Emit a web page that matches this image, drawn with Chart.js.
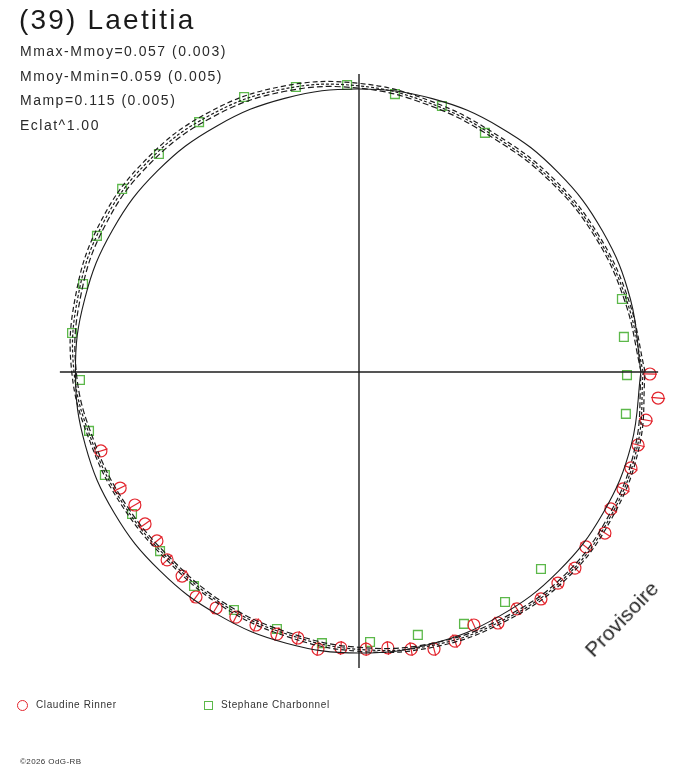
<!DOCTYPE html>
<html>
<head>
<meta charset="utf-8">
<script src="https://cdn.jsdelivr.net/npm/chart.js@4.4.1/dist/chart.umd.min.js"></script>
<style>
  html, body { margin: 0; padding: 0; background: #fff; }
  #wrap { position: relative; width: 688px; height: 768px; overflow: hidden; }
  #plot { position: absolute; left: 0; top: 0; }
  .txt { position: absolute; font-family: "Liberation Sans", Arial, sans-serif; color: #222; white-space: nowrap; }
  .title { left: 19px; top: 3px; font-size: 28px; line-height: 34px; letter-spacing: 2.2px; color: #1a1a1a; }
  .stat { left: 20px; font-size: 14px; line-height: 18px; letter-spacing: 1.5px; color: #2a2a2a; }
  .leg { font-size: 10px; line-height: 12px; letter-spacing: 0.6px; color: #333; top: 699px; }
  .mark-c { position: absolute; left: 17px; top: 700px; width: 9px; height: 9px; border: 1.3px solid #e3262e; border-radius: 50%; }
  .mark-s { position: absolute; left: 204px; top: 701px; width: 7px; height: 7px; border: 1.3px solid #5cb84a; }
  .copy { left: 20px; top: 757px; font-size: 8px; line-height: 10px; letter-spacing: 0.4px; color: #333; }
  .prov { left: 574px; top: 606px; font-size: 21px; line-height: 26px; letter-spacing: 0.2px; transform: rotate(-46deg); transform-origin: center; }
</style>
</head>
<body>
<div id="wrap">
  <canvas id="plot" width="688" height="768"></canvas>
  <div class="txt title">(39) Laetitia</div>
  <div class="txt stat" style="top:42px">Mmax-Mmoy=0.057 (0.003)</div>
  <div class="txt stat" style="top:67px">Mmoy-Mmin=0.059 (0.005)</div>
  <div class="txt stat" style="top:91px">Mamp=0.115 (0.005)</div>
  <div class="txt stat" style="top:116px">Eclat^1.00</div>
  <div class="txt prov">Provisoire</div>
  <span class="mark-c"></span>
  <div class="txt leg" style="left:36px">Claudine Rinner</div>
  <span class="mark-s"></span>
  <div class="txt leg" style="left:221px">Stephane Charbonnel</div>
  <div class="txt copy">©2026 OdG-RB</div>
</div>
<script>
// phase angle of the model curves (degrees), one value every 15 deg
const fitAngles = [0, 15, 30, 45, 60, 75, 90, 105, 120, 135, 150, 165,
                   180, 195, 210, 225, 240, 255, 270, 285, 300, 315, 330, 345];

// relative radius (mean circle = 100)
const meanCircle = [99.6, 99.3, 99.4, 99.6, 99.8, 100, 100, 100.2, 100.4, 100.6, 100.5, 100.3,
                    100.2, 100.1, 99.8, 99.4, 99.2, 99.2, 99.3, 99.4, 99.5, 99.6, 99.6, 99.6];
const fitMid = [100.4, 97.9, 96.8, 96.1, 96.1, 98.2, 101.1, 103.5, 104.9, 105.3, 104.6, 102.8,
                100.7, 97.4, 95.4, 94.3, 95.2, 96.1, 98.0, 100.0, 101.4, 102.8, 102.5, 101.8];
const fitHigh = [101.1, 98.6, 97.5, 96.9, 96.9, 99.0, 102.0, 104.5, 106.0, 106.3, 105.6, 103.7,
                 101.5, 98.1, 96.1, 95.0, 95.9, 96.9, 98.7, 100.7, 102.1, 103.5, 103.2, 102.5];
const fitLow = [99.7, 97.2, 96.1, 95.4, 95.3, 97.4, 100.3, 102.6, 103.9, 104.3, 103.6, 101.9,
                99.9, 96.7, 94.7, 93.6, 94.5, 95.4, 97.3, 99.3, 100.7, 102.1, 101.8, 101.1];

// observations, x/y in the same units as the radii
const claudineX = [102.8, 105.7, 101.4, 98.6, 96.1, 93.3, 89.0, 86.9, 80.2, 76.3, 70.3, 64.3,
                   55.8, 49.1, 40.6, 33.9, 26.5, 18.4, 10.2, 2.5, -6.4, -14.5, -21.6, -29.0,
                   -36.4, -43.5, -50.5, -57.6, -62.5, -67.8, -71.4, -75.6, -79.2, -84.4, -91.2];
const claudineY = [-0.7, -9.2, -17.0, -25.8, -33.9, -41.3, -48.4, -56.9, -61.8, -69.3, -74.6, -80.2,
                   -83.7, -88.7, -89.4, -95.1, -97.9, -97.9, -97.5, -97.9, -97.5, -97.9, -94.0, -92.6,
                   -89.4, -86.6, -83.4, -79.5, -72.1, -66.4, -59.7, -53.7, -47.0, -41.0, -27.9];
const stephaneX = [-4.2, -22.3, -40.6, -56.5, -70.7, -83.7, -92.6, -97.5, -101.4, -98.6,
                   -95.4, -89.8, -80.2, -70.3, -58.3, -44.2, -29.0, -13.1, 3.9, 20.8,
                   37.1, 51.6, 64.3, 94.3, 94.7, 93.6, 92.9, 44.5, 29.3, 12.7];
const stephaneY = [101.4, 100.7, 97.2, 88.3, 77.0, 64.7, 48.1, 31.1, 13.8, -2.8,
                   -20.8, -36.4, -50.2, -63.3, -75.6, -84.1, -90.8, -95.8, -95.4, -92.9,
                   -89.0, -81.3, -69.6, -14.8, -1.1, 12.4, 25.8, 84.5, 94.0, 98.2];

// axis cross extent
const axisX = [-105.7, 105.7];
const axisY = [-104.6, 105.3];

function loop(radii) {
  const pts = fitAngles.map((a, i) => {
    const t = a * Math.PI / 180;
    return { x: radii[i] * Math.cos(t), y: radii[i] * Math.sin(t) };
  });
  pts.push(pts[0]);
  return pts;
}

function obs(xs, ys) {
  return xs.map((x, i) => ({ x: x, y: ys[i] }));
}

const ink = "#1c1c1c";
const red = "#e3262e";
const green = "#5cb84a";

const claudinePts = obs(claudineX, claudineY);
const stephanePts = obs(stephaneX, stephaneY);
const radialRot = claudinePts.map(p => -Math.atan2(p.y, p.x) * 180 / Math.PI);

const lineDs = (data, dash, width) => ({
  type: "line",
  data: data,
  borderColor: ink,
  borderWidth: width,
  borderDash: dash,
  pointRadius: 0,
  tension: 0.4,
  fill: false,
});

const PX = 2.83; // pixels per unit

new Chart(document.getElementById("plot"), {
  type: "scatter",
  data: {
    datasets: [
      { type: "line", data: [{ x: axisX[0], y: 0 }, { x: axisX[1], y: 0 }],
        borderColor: ink, borderWidth: 1.4, pointRadius: 0 },
      { type: "line", data: [{ x: 0, y: axisY[0] }, { x: 0, y: axisY[1] }],
        borderColor: ink, borderWidth: 1.4, pointRadius: 0 },
      lineDs(loop(meanCircle), [], 1.1),
      lineDs(loop(fitHigh), [5, 3], 1.2),
      lineDs(loop(fitMid), [3, 2], 1.2),
      lineDs(loop(fitLow), [6, 3], 1.2),
      { label: "Claudine Rinner", data: claudinePts, pointStyle: "circle",
        pointRadius: 6, pointBorderColor: red, pointBackgroundColor: "rgba(0,0,0,0)",
        pointBorderWidth: 1.2 },
      { data: claudinePts, pointStyle: "line", pointRotation: radialRot,
        pointRadius: 7, pointBorderColor: red, pointBorderWidth: 1.2 },
      { label: "Stephane Charbonnel", data: stephanePts, pointStyle: "rect",
        pointRadius: 6.2, pointBorderColor: green, pointBackgroundColor: "rgba(0,0,0,0)",
        pointBorderWidth: 1.3 },
    ],
  },
  options: {
    responsive: false,
    animation: false,
    layout: { padding: 0, autoPadding: false },
    scales: {
      x: { type: "linear", display: false, min: -359 / PX, max: (688 - 359) / PX },
      y: { type: "linear", display: false, min: -(768 - 372) / PX, max: 372 / PX },
    },
    plugins: {
      legend: { display: false },
      tooltip: { enabled: false },
    },
  },
});
</script>
</body>
</html>
